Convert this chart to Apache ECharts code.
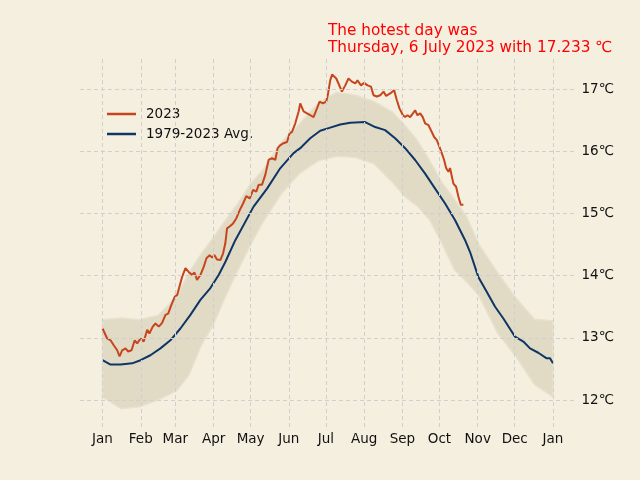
<!DOCTYPE html>
<html>
<head>
<meta charset="utf-8">
<script src="https://cdn.jsdelivr.net/npm/echarts@6/dist/echarts.min.js"></script>
<style>html,body{margin:0;padding:0;background:#f5efe0;}#c{width:640px;height:480px;}</style>
</head>
<body>
<div id="c"></div>
<script>
// Month ticks (day of year) and labels
const tickDays = [0, 31, 59, 90, 120, 151, 181, 212, 243, 273, 304, 334, 365];
const tickLabels = ['Jan', 'Feb', 'Mar', 'Apr', 'May', 'Jun', 'Jul', 'Aug', 'Sep', 'Oct', 'Nov', 'Dec', 'Jan'];
const tempTicks = [12, 13, 14, 15, 16, 17];

// 2023 daily global temperature
const days2023 = [0,3.8,6.5,9.1,11.9,13.8,15.9,18.6,20.8,23.5,
  26.1,28.1,30.8,33.4,36.2,38,40.7,42.9,45.6,48.3,
  51,53.2,55.8,58.5,60.5,62.3,64.5,67.2,69.8,72.6,
  74.5,76.6,79.3,82,84.2,86.8,88.8,90.6,92.8,95.5,
  97.7,99.5,100.9,103,105.8,108.4,111.1,113.9,116.5,119.2,
  122,124.6,126.5,129.2,131.9,134.6,137.3,140,141.9,144.1,
  146.7,149.5,151.6,153.5,156.2,158.9,160.2,162.9,165.7,168.3,
  171,173.2,175.9,178.6,181.3,182.5,184.5,186,189.4,191.2,
  194,196.7,199.3,202.1,204.8,206.6,209.4,212,214.7,217.5,
  219.6,222.3,225,227.7,229.8,233.1,236.3,238.5,240.6,243.4,
  245.2,247.1,249.3,251.5,253.3,255.2,257.4,259.5,261.4,264.1,
  266.8,268.7,270.9,273,274.9,276.8,278.4,280.3,281.6,283,
  284.3,286.5,288.4,290.3,292.4];
const temps2023 = [13.15,12.99,12.96,12.88,12.80,12.70,12.80,12.83,12.78,12.80,
  12.96,12.91,12.99,12.94,13.13,13.07,13.18,13.23,13.18,13.24,
  13.37,13.39,13.53,13.66,13.69,13.82,13.98,14.12,14.06,14.01,
  14.05,13.93,14.01,14.14,14.28,14.33,14.29,14.33,14.26,14.25,
  14.36,14.52,14.76,14.79,14.84,14.92,15.05,15.16,15.28,15.24,
  15.38,15.35,15.46,15.46,15.62,15.86,15.89,15.86,16.05,16.10,
  16.13,16.15,16.29,16.31,16.45,16.64,16.77,16.64,16.61,16.58,
  16.55,16.66,16.80,16.77,16.80,16.90,17.14,17.233,17.17,17.09,
  16.96,17.06,17.17,17.12,17.09,17.14,17.06,17.10,17.06,17.04,
  16.90,16.88,16.90,16.96,16.89,16.93,16.98,16.82,16.69,16.58,
  16.55,16.58,16.55,16.61,16.66,16.58,16.61,16.55,16.45,16.42,
  16.31,16.23,16.18,16.07,15.97,15.86,15.73,15.67,15.73,15.70,
  15.48,15.43,15.27,15.14,15.14];

// 1979-2023 average
const avgDays = [0,6.5,14.6,24,30.8,38.8,46.9,55,63.1,71.2,
  79.3,87.4,94.1,99.5,107.6,122.4,133.3,144.1,154.8,160.2,
  168.3,176.4,184.5,192.6,200.7,212.8,220.9,229,237.1,245.2,
  253.3,261.4,269.5,277.6,285.7,293.8,297.8,304.5,311.3,318.1,
  324.8,334.2,341,346.4,353.1,359.9,362.6,365];
const avgTemps = [12.64,12.57,12.57,12.59,12.64,12.72,12.83,12.96,13.15,13.37,
  13.61,13.80,14.01,14.22,14.57,15.11,15.40,15.73,15.97,16.05,
  16.21,16.33,16.38,16.43,16.46,16.47,16.39,16.34,16.21,16.05,
  15.86,15.64,15.40,15.16,14.89,14.57,14.38,13.98,13.74,13.50,
  13.31,13.02,12.94,12.83,12.76,12.67,12.67,12.59];

// Envelope of the individual years 1979-2022
const bandDays  = [0,15,30,45,60,70,80,90,100,110,120,130,145,160,175,190,205,220,235,245,255,265,275,285,295,305,320,335,350,365];
const bandUpper = [13.29,13.32,13.29,13.36,13.66,14.05,14.35,14.62,14.90,15.17,15.48,15.70,16.15,16.45,16.78,16.95,16.90,16.80,16.63,16.42,16.18,15.85,15.50,15.23,14.95,14.50,14.05,13.64,13.30,13.27];
const bandLower = [12.05,11.86,11.89,12.00,12.15,12.40,12.88,13.22,13.68,14.10,14.50,14.86,15.32,15.65,15.85,15.92,15.90,15.80,15.50,15.27,15.12,14.90,14.52,14.10,13.90,13.68,13.08,12.70,12.25,12.05];

const FONT = 'DejaVu Sans';
const zip = (a, b) => a.map((v, i) => [v, b[i]]);

const chart = echarts.init(document.getElementById('c'), null, {renderer: 'canvas'});
const gridStyle = {type: [4, 3], color: '#cfcfcf', width: 1};

chart.setOption({
  backgroundColor: '#f5efe0',
  animation: false,
  textStyle: {fontFamily: FONT},
  title: {
    text: 'The hotest day was\nThursday, 6 July 2023 with 17.233 ℃',
    left: 323, top: 17, padding: 5,
    textStyle: {color: '#ff0000', fontSize: 15.3, fontWeight: 'normal', lineHeight: 17.5, fontFamily: FONT}
  },
  legend: {
    orient: 'vertical', left: 102, top: 102, padding: 5,
    itemWidth: 29, itemHeight: 2.5, itemGap: 6, icon: 'rect',
    data: ['2023', '1979-2023 Avg.'],
    textStyle: {fontSize: 13.5, color: '#111', lineHeight: 14, fontFamily: FONT, padding: [0, 0, 0, 5]}
  },
  grid: {left: 80, right: 64.5, top: 58, bottom: 53, outerBoundsMode: 'none'},
  xAxis: {
    type: 'value', min: -18.25, max: 383.25,
    axisLine: {show: false}, axisTick: {show: false}, splitLine: {show: false},
    axisLabel: {customValues: tickDays, margin: 5, fontSize: 13.5, color: '#111', fontFamily: FONT,
      formatter: v => tickLabels[tickDays.indexOf(v)]}
  },
  yAxis: {
    type: 'value', position: 'right', min: 11.566, max: 17.5,
    axisLine: {show: false}, axisTick: {show: false}, splitLine: {show: false},
    axisLabel: {customValues: tempTicks, margin: 6, fontSize: 13.5, color: '#111', fontFamily: FONT,
      formatter: v => v + '℃'}
  },
  series: [
    {
      name: 'grid', type: 'line', data: [], z: 1, silent: true,
      markLine: {
        silent: true, symbol: 'none', label: {show: false}, lineStyle: gridStyle, animation: false,
        data: tickDays.map(d => ({xAxis: d})).concat(tempTicks.map(t => ({yAxis: t})))
      }
    },
    {
      name: 'years', type: 'custom', z: 2, silent: true,
      data: [[bandDays[0], bandLower[0]]],
      renderItem: (params, api) => {
        const pts = [];
        for (let i = 0; i < bandDays.length; i++) pts.push(api.coord([bandDays[i], bandUpper[i]]));
        for (let i = bandDays.length - 1; i >= 0; i--) pts.push(api.coord([bandDays[i], bandLower[i]]));
        return {type: 'polygon', shape: {points: pts}, style: {fill: '#e1dbc5', stroke: '#e7e1cd', lineWidth: 1.5}};
      }
    },
    {
      name: '1979-2023 Avg.', type: 'line', z: 3, data: zip(avgDays, avgTemps),
      showSymbol: false, symbol: 'none', color: '#0f3566',
      lineStyle: {width: 2, color: '#0f3566'}
    },
    {
      name: '2023', type: 'line', z: 4, data: zip(days2023, temps2023),
      showSymbol: false, symbol: 'none', color: '#c7451d',
      lineStyle: {width: 2, color: '#c7451d'}
    }
  ]
});
</script>
</body>
</html>
